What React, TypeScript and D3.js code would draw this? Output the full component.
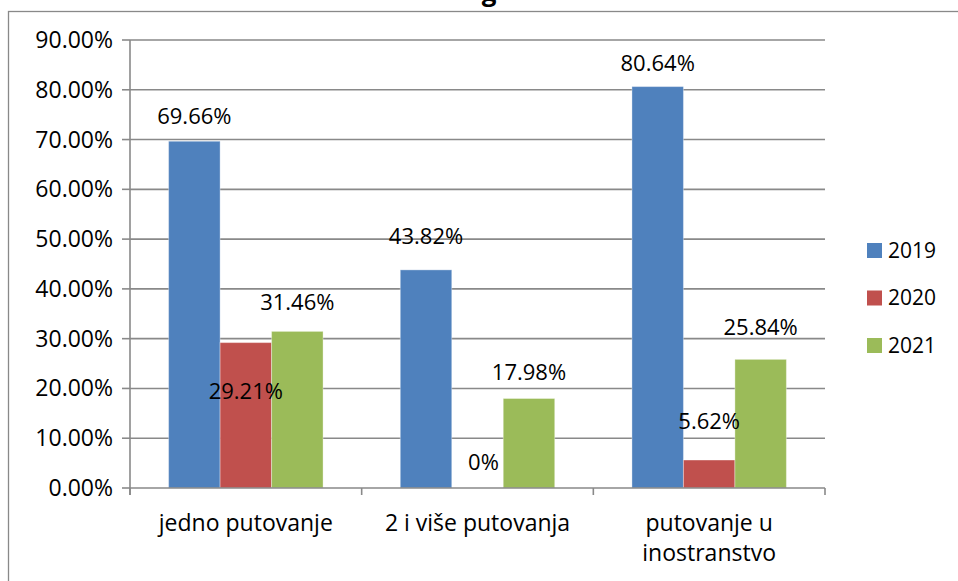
import React from "react";
import * as d3 from "d3";

const categories = ["jedno putovanje", "2 i više putovanja", "putovanje u inostranstvo"];
const categoryLines = [["jedno putovanje"], ["2 i više putovanja"], ["putovanje u", "inostranstvo"]];
const seriesNames = ["2019", "2020", "2021"];
const values2019 = [69.66, 43.82, 80.64];
const values2020 = [29.21, 0, 5.62];
const values2021 = [31.46, 17.98, 25.84];
const yTicks = [0, 10, 20, 30, 40, 50, 60, 70, 80, 90];
const colors = ["#4F81BD", "#C0504D", "#9BBB59"];

// label vertical offsets (layout, relative to bar top), per series per category
const labelOffsets = [
  [-25, -34, -23],
  [49, -26, -39],
  [-29, -26, -32],
];

const W = 958;
const H = 581;
const FONT = "'Open Sans', sans-serif";

export default function App() {
  const series = [values2019, values2020, values2021];
  const x = d3.scaleBand<string>().domain(categories).range([130, 825]).padding(0);
  const xs = d3
    .scaleBand<string>()
    .domain(seriesNames)
    .range([0, x.bandwidth()])
    .paddingInner(0)
    .paddingOuter(0.75);
  const y = d3.scaleLinear().domain([0, 90]).range([488, 40]);
  const fsTick = 23;
  const fsCat = 23;
  const fsLabel = 22;
  const fsLegend = 21;

  return (
    <svg
      width={W}
      height={H}
      style={{ position: "fixed", left: 0, top: 0, background: "#fff" }}
      fontFamily={FONT}
    >
      <rect x={0} y={0} width={W} height={H} fill="#fff" />
      {/* clipped title */}
      <text x={489} y={1} textAnchor="middle" fontSize={26} fontWeight="bold" fill="#000">
        g
      </text>
      {/* frame */}
      <rect x={8.5} y={11.5} width={W + 10} height={H + 10} fill="none" stroke="#898989" strokeWidth={1.3} />

      {/* gridlines & y ticks */}
      {yTicks.map((t) => (
        <g key={t}>
          {t > 0 && (
            <line x1={130} x2={825} y1={y(t)} y2={y(t)} stroke="#898989" strokeWidth={1.6} />
          )}
          <line x1={122} x2={130} y1={y(t)} y2={y(t)} stroke="#898989" strokeWidth={1.6} />
          <text x={113} y={y(t)} dy="0.35em" textAnchor="end" fontSize={fsTick} fill="#000">
            {t.toFixed(2) + "%"}
          </text>
        </g>
      ))}

      {/* bars */}
      {categories.map((c, ci) => (
        <g key={c}>
          {series.map((vals, si) => {
            const bx = (x(c) as number) + (xs(seriesNames[si]) as number);
            const v = vals[ci];
            if (v <= 0) return null;
            return (
              <rect
                key={si}
                x={bx}
                y={y(v)}
                width={xs.bandwidth()}
                height={y(0) - y(v)}
                fill={colors[si]}
                stroke="rgba(255,255,255,0.35)"
                strokeWidth={1}
              />
            );
          })}
        </g>
      ))}

      {/* axes */}
      <line x1={130} x2={130} y1={40} y2={495} stroke="#898989" strokeWidth={1.6} />
      <line x1={130} x2={825} y1={488} y2={488} stroke="#898989" strokeWidth={1.6} />
      {[0, 1, 2, 3].map((i) => {
        const bx = i < 3 ? (x(categories[i]) as number) : (x(categories[2]) as number) + x.bandwidth();
        return <line key={i} x1={bx} x2={bx} y1={488} y2={495} stroke="#898989" strokeWidth={1.6} />;
      })}

      {/* data labels */}
      {categories.map((c, ci) =>
        series.map((vals, si) => {
          const v = vals[ci];
          const cx = (x(c) as number) + (xs(seriesNames[si]) as number) + xs.bandwidth() / 2;
          const ly = y(v) + labelOffsets[si][ci];
          const txt = v === 0 ? "0%" : v.toFixed(2) + "%";
          return (
            <text
              key={c + si}
              x={cx + (si === 1 && ci === 1 ? 6 : 0)}
              y={ly}
              dy="0.35em"
              textAnchor="middle"
              fontSize={fsLabel}
              fill="#000"
            >
              {txt}
            </text>
          );
        })
      )}

      {/* category labels */}
      {categories.map((c, ci) => (
        <text key={c} textAnchor="middle" fontSize={fsCat} fill="#000">
          {categoryLines[ci].map((ln, li) => (
            <tspan key={li} x={(x(c) as number) + x.bandwidth() / 2} y={523 + li * 30} dy="0.35em">
              {ln}
            </tspan>
          ))}
        </text>
      ))}

      {/* legend */}
      {seriesNames.map((s, i) => (
        <g key={s} transform={`translate(867, ${243 + i * 47.5})`}>
          <rect x={0} y={0} width={15} height={15} fill={colors[i]} />
          <text x={21} y={7.5} dy="0.35em" fontSize={fsLegend} fill="#000">
            {s}
          </text>
        </g>
      ))}
    </svg>
  );
}
